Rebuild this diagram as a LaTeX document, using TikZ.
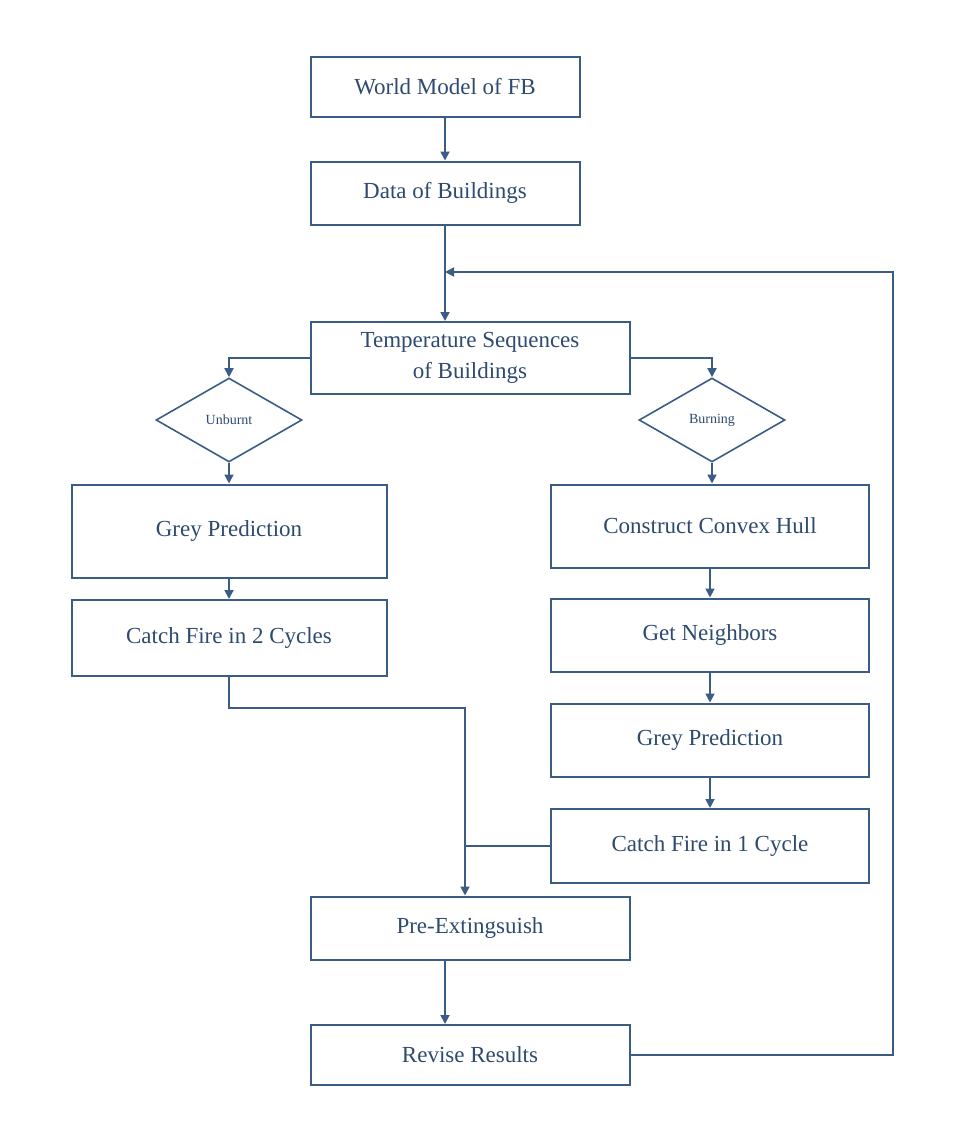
\documentclass[tikz,border=0pt]{standalone}
\usepackage{fontspec}
\setmainfont{Liberation Serif}
\usetikzlibrary{shapes.geometric,arrows.meta}
\definecolor{ln}{HTML}{3B5D85}
\definecolor{tx}{HTML}{2E4A6E}
\begin{document}
\begin{tikzpicture}[x=1pt,y=-1pt,
  box/.style={draw=ln,line width=2pt,text=tx,font=\fontsize{23}{27}\selectfont,align=center,inner sep=0pt},
  dia/.style={draw=ln,line width=1.6pt,diamond,aspect=1.75,minimum width=146pt,minimum height=84pt,inner sep=0pt,text=tx,font=\fontsize{14}{16}\selectfont},
  con/.style={draw=ln,line width=1.8pt},
  arr/.style={con,-{Triangle[length=9pt,width=9pt]}}]
\useasboundingbox (0,0) rectangle (960,1132);
\node[box,minimum width=269pt,minimum height=60pt] (wm) at (445,87) {World Model of FB};
\node[box,minimum width=269pt,minimum height=63pt] (db) at (445,193) {Data of Buildings};
\node[box,minimum width=319pt,minimum height=72pt] (ts) at (470,358) {Temperature Sequences\\[4pt]of Buildings};
\node[dia] (ub) at (229,420) {Unburnt};
\node[dia] (bn) at (712,420) {Burning};
\node[box,minimum width=315pt,minimum height=93pt] (gp1) at (229,531) {Grey Prediction};
\node[box,minimum width=315pt,minimum height=76pt] (cf2) at (229,638) {Catch Fire in 2 Cycles};
\node[box,minimum width=318pt,minimum height=83pt] (ch) at (710,526) {Construct Convex Hull};
\node[box,minimum width=318pt,minimum height=73pt] (gn) at (710,635) {Get Neighbors};
\node[box,minimum width=318pt,minimum height=73pt] (gp2) at (710,740) {Grey Prediction};
\node[box,minimum width=318pt,minimum height=74pt] (cf1) at (710,846) {Catch Fire in 1 Cycle};
\node[box,minimum width=319pt,minimum height=63pt] (pe) at (470,928) {Pre-Extingsuish};
\node[box,minimum width=319pt,minimum height=60pt] (rr) at (470,1055) {Revise Results};
\coordinate (j) at (465,846);
\coordinate (lp) at (445,272);
\draw[arr] (wm.south -| 445,0) -- (db.north -| 445,0);
\draw[arr] (db.south -| 445,0) -- (ts.north -| 445,0);
\draw[arr] (rr.east) -- (893,1055) -- (893,272) -- (lp);
\draw[arr] (ts.west |- 0,358) -- (229,358) -- (ub.north);
\draw[arr] (ts.east |- 0,358) -- (712,358) -- (bn.north);
\draw[arr] (ub.south) -- (gp1.north);
\draw[arr] (bn.south) -- (ch.north -| 712,0);
\draw[arr] (gp1.south) -- (cf2.north);
\draw[arr] (ch.south) -- (gn.north);
\draw[arr] (gn.south) -- (gp2.north);
\draw[arr] (gp2.south) -- (cf1.north);
\draw[arr] (cf2.south) -- (229,708) -- (465,708) -- (pe.north -| 465,0);
\draw[con] (cf1.west) -- (j);
\draw[arr] (pe.south -| 445,0) -- (rr.north -| 445,0);
\end{tikzpicture}
\end{document}
